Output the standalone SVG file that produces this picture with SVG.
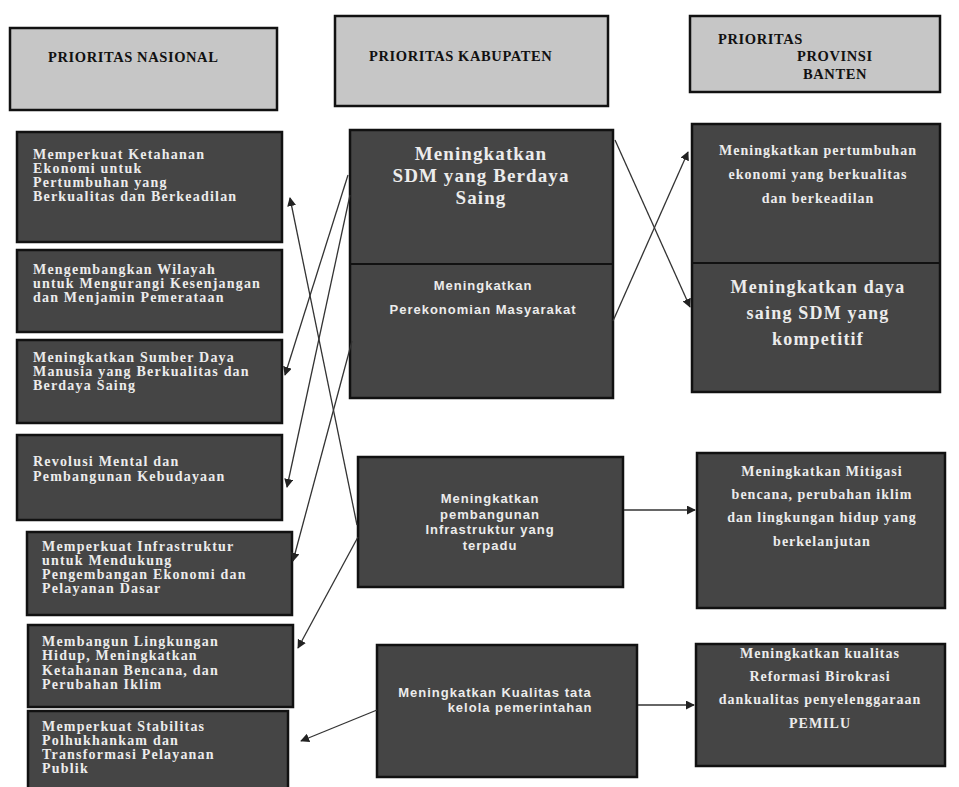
<svg xmlns="http://www.w3.org/2000/svg" width="959" height="787" viewBox="0 0 959 787">
<defs>
<marker id="arr" viewBox="0 0 10 10" refX="9" refY="5" markerWidth="9" markerHeight="9" markerUnits="userSpaceOnUse" orient="auto">
<path d="M0,0 L10,5 L0,10 z" fill="#222"/>
</marker>
</defs>
<style>
.hdr{fill:#c6c6c6;stroke:#111;stroke-width:2.5}
.box{fill:#454545;stroke:#111;stroke-width:2.5}
.div{stroke:#111;stroke-width:2}
.ht{font-family:"Liberation Serif",serif;font-weight:bold;font-size:14.5px;fill:#111;letter-spacing:0.6px}
.lt{font-family:"Liberation Serif",serif;font-weight:bold;font-size:14px;fill:#ececec;letter-spacing:1.2px}
.rt{font-family:"Liberation Serif",serif;font-weight:bold;font-size:14px;fill:#ececec;letter-spacing:1px;text-anchor:middle}
.rb{font-family:"Liberation Serif",serif;font-weight:bold;font-size:18px;fill:#ececec;letter-spacing:1.2px;text-anchor:middle}
.mt{font-family:"Liberation Serif",serif;font-weight:bold;font-size:19px;fill:#ececec;letter-spacing:1.1px;text-anchor:middle}
.ms{font-family:"Liberation Sans",sans-serif;font-weight:bold;font-size:13px;fill:#ececec;letter-spacing:1px;text-anchor:middle}
.con{stroke:#333;stroke-width:1.3;fill:none;marker-end:url(#arr)}
</style>
<rect width="959" height="787" fill="#ffffff"/>

<g id="h-nasional">
<rect class="hdr" x="10" y="28" width="267" height="82"/>
<text class="ht" x="48" y="62">PRIORITAS NASIONAL</text>
</g>
<g id="h-kabupaten">
<rect class="hdr" x="335" y="16" width="273" height="90"/>
<text class="ht" x="369" y="61">PRIORITAS KABUPATEN</text>
</g>
<g id="h-provinsi">
<rect class="hdr" x="690" y="16" width="250" height="76"/>
<text class="ht" x="718" y="44">PRIORITAS</text>
<text class="ht" x="797" y="61">PROVINSI</text>
<text class="ht" x="803" y="79">BANTEN</text>
</g>

<g id="n1">
<rect class="box" x="17" y="132" width="265" height="110"/>
<text class="lt" x="33" y="159">Memperkuat Ketahanan</text>
<text class="lt" x="33" y="173">Ekonomi untuk</text>
<text class="lt" x="33" y="187">Pertumbuhan yang</text>
<text class="lt" x="33" y="201">Berkualitas dan Berkeadilan</text>
</g>
<g id="n2">
<rect class="box" x="17" y="250" width="265" height="82"/>
<text class="lt" x="33" y="274">Mengembangkan Wilayah</text>
<text class="lt" x="33" y="288">untuk Mengurangi Kesenjangan</text>
<text class="lt" x="33" y="302">dan Menjamin Pemerataan</text>
</g>
<g id="n3">
<rect class="box" x="17" y="340" width="265" height="83"/>
<text class="lt" x="33" y="362">Meningkatkan Sumber Daya</text>
<text class="lt" x="33" y="376">Manusia yang Berkualitas dan</text>
<text class="lt" x="33" y="390">Berdaya Saing</text>
</g>
<g id="n4">
<rect class="box" x="17" y="435" width="265" height="85"/>
<text class="lt" x="33" y="466">Revolusi Mental dan</text>
<text class="lt" x="33" y="481">Pembangunan Kebudayaan</text>
</g>
<g id="n5">
<rect class="box" x="27" y="532" width="265" height="83"/>
<text class="lt" x="42" y="551">Memperkuat Infrastruktur</text>
<text class="lt" x="42" y="565">untuk Mendukung</text>
<text class="lt" x="42" y="579">Pengembangan Ekonomi dan</text>
<text class="lt" x="42" y="593">Pelayanan Dasar</text>
</g>
<g id="n6">
<rect class="box" x="28" y="625" width="265" height="82"/>
<text class="lt" x="42" y="646">Membangun Lingkungan</text>
<text class="lt" x="42" y="660">Hidup, Meningkatkan</text>
<text class="lt" x="42" y="675">Ketahanan Bencana, dan</text>
<text class="lt" x="42" y="689">Perubahan Iklim</text>
</g>
<g id="n7">
<rect class="box" x="28" y="711" width="260" height="80"/>
<text class="lt" x="42" y="731">Memperkuat Stabilitas</text>
<text class="lt" x="42" y="745">Polhukhankam dan</text>
<text class="lt" x="42" y="759">Transformasi Pelayanan</text>
<text class="lt" x="42" y="773">Publik</text>
</g>

<g id="k1">
<rect class="box" x="350" y="130" width="263" height="268"/>
<line class="div" x1="350" y1="264" x2="613" y2="264"/>
<text class="mt" x="481" y="160">Meningkatkan</text>
<text class="mt" x="481" y="182">SDM yang Berdaya</text>
<text class="mt" x="481" y="204">Saing</text>
<text class="ms" x="483" y="290">Meningkatkan</text>
<text class="ms" x="483" y="314">Perekonomian Masyarakat</text>
</g>
<g id="k2">
<rect class="box" x="358" y="457" width="265" height="130"/>
<text class="ms" x="490" y="503">Meningkatkan</text>
<text class="ms" x="490" y="519">pembangunan</text>
<text class="ms" x="490" y="534">Infrastruktur yang</text>
<text class="ms" x="490" y="550">terpadu</text>
</g>
<g id="k3">
<rect class="box" x="377" y="645" width="260" height="132"/>
<text class="ms" x="495" y="697">Meningkatkan Kualitas tata</text>
<text class="ms" x="520" y="712">kelola pemerintahan</text>
</g>

<g id="p1">
<rect class="box" x="692" y="124" width="248" height="268"/>
<line class="div" x1="692" y1="263" x2="940" y2="263"/>
<text class="rt" x="818" y="155">Meningkatkan pertumbuhan</text>
<text class="rt" x="818" y="179">ekonomi yang berkualitas</text>
<text class="rt" x="818" y="203">dan berkeadilan</text>
<text class="rb" x="818" y="293">Meningkatkan daya</text>
<text class="rb" x="818" y="319">saing SDM yang</text>
<text class="rb" x="818" y="345">kompetitif</text>
</g>
<g id="p2">
<rect class="box" x="697" y="453" width="248" height="155"/>
<text class="rt" x="822" y="476">Meningkatkan Mitigasi</text>
<text class="rt" x="822" y="499">bencana, perubahan iklim</text>
<text class="rt" x="822" y="522">dan lingkungan hidup yang</text>
<text class="rt" x="822" y="546">berkelanjutan</text>
</g>
<g id="p3">
<rect class="box" x="696" y="644" width="249" height="122"/>
<text class="rt" x="820" y="658">Meningkatkan kualitas</text>
<text class="rt" x="820" y="681">Reformasi Birokrasi</text>
<text class="rt" x="820" y="704">dankualitas penyelenggaraan</text>
<text class="rt" x="820" y="728">PEMILU</text>
</g>

<g id="connectors">
<line class="con" x1="357" y1="525" x2="290" y2="198"/>
<line class="con" x1="348" y1="175" x2="285" y2="375"/>
<line class="con" x1="350" y1="195" x2="287" y2="487"/>
<line class="con" x1="352" y1="341" x2="293" y2="561"/>
<line class="con" x1="358" y1="537" x2="298" y2="648"/>
<line class="con" x1="377" y1="710" x2="301" y2="741"/>
<line class="con" x1="615" y1="140" x2="690" y2="307"/>
<line class="con" x1="613" y1="321" x2="688" y2="152"/>
<line class="con" x1="624" y1="510" x2="695" y2="510"/>
<line class="con" x1="638" y1="705" x2="694" y2="705"/>
</g>
</svg>
